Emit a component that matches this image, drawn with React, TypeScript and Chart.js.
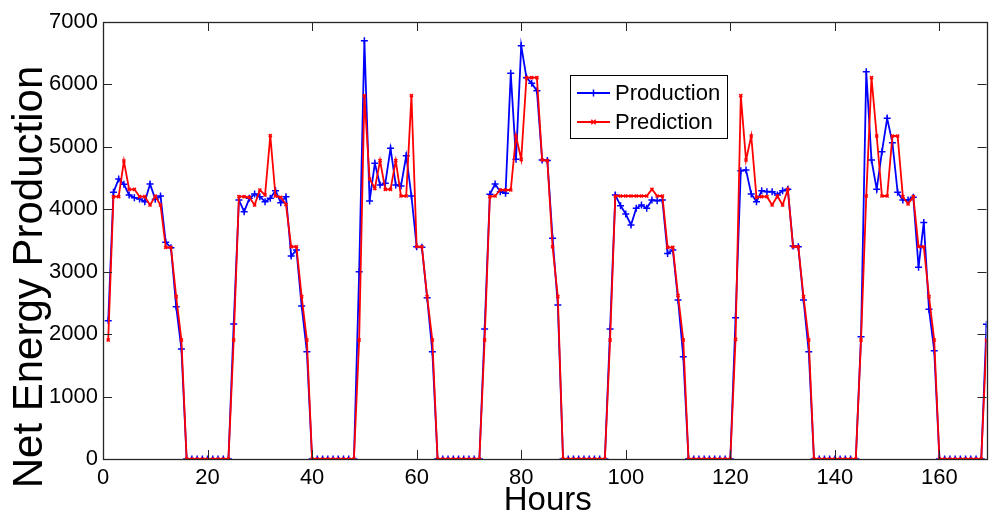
import React, { useEffect, useRef } from "react";
import { Chart, registerables } from "chart.js";

Chart.register(...registerables);

const HOURS: number[] = Array.from({ length: 169 }, (_, i) => i + 1);
const Z9 = [0, 0, 0, 0, 0, 0, 0, 0, 0];

const PRODUCTION: number[] = [
  2215, 4272, 4485, 4400, 4229, 4186, 4165, 4122, 4405, 4160, 4213, 3471, 3385, 2440, 1762, ...Z9,
  2162, 4149, 3962, 4176, 4245, 4202, 4122, 4176, 4298, 4106, 4202, 3250, 3348, 2450, 1719, ...Z9,
  3000, 6700, 4133, 4736, 4389, 4416, 4976, 4389, 4373, 4858, 4213, 3400, 3390, 2584, 1719, ...Z9,
  2082, 4240, 4405, 4282, 4256, 6178, 4800, 6620, 6108, 6017, 5900, 4789, 4780, 3535, 2467, ...Z9,
  2082, 4229, 4058, 3924, 3748, 4015, 4069, 4015, 4149, 4138, 4149, 3290, 3348, 2547, 1639, ...Z9,
  2264, 4618, 4629, 4245, 4122, 4298, 4282, 4282, 4229, 4298, 4320, 3412, 3400, 2547, 1719, ...Z9,
  1960, 6204, 4789, 4320, 4922, 5457, 5067, 4272, 4149, 4149, 4192, 3070, 3790, 2397, 1735, ...Z9,
  2157,
];

const PREDICTION: number[] = [
  1906, 4202, 4202, 4773, 4320, 4320, 4202, 4202, 4069, 4210, 4069, 3391, 3391, 2600, 1906, ...Z9,
  1906, 4202, 4202, 4192, 4069, 4309, 4229, 5179, 4213, 4192, 4080, 3400, 3400, 2600, 1906, ...Z9,
  1906, 5820, 4485, 4336, 4779, 4320, 4320, 4779, 4213, 4213, 5820, 3400, 3400, 2600, 1906, ...Z9,
  1906, 4202, 4213, 4309, 4309, 4309, 5174, 4800, 6108, 6108, 6108, 4789, 4780, 3400, 2600, ...Z9,
  1906, 4213, 4213, 4213, 4213, 4213, 4213, 4213, 4320, 4213, 4213, 3391, 3391, 2616, 1906, ...Z9,
  1917, 5820, 4789, 5174, 4192, 4202, 4202, 4069, 4213, 4069, 4320, 3400, 3400, 2600, 1906, ...Z9,
  1906, 4213, 6108, 5174, 4213, 4213, 5174, 5174, 4202, 4085, 4202, 3400, 3400, 2600, 1906, ...Z9,
  1906,
];

const X_TICKS: number[] = [0, 20, 40, 60, 80, 100, 120, 140, 160];
const Y_TICKS: number[] = [0, 1000, 2000, 3000, 4000, 5000, 6000, 7000];
const SERIES_LABELS: string[] = ["Production", "Prediction"];
const X_TITLE = "Hours";
const Y_TITLE = "Net Energy Production";

const FONT = "'Liberation Sans', Arial, Helvetica, sans-serif";
const AXIS_COLOR = "#262626";

const boxPlugin = {
  id: "matlabBox",
  afterDatasetsDraw(chart: any) {
    const { ctx, chartArea, scales } = chart;
    const { left, right, top, bottom } = chartArea;
    const tl = 9;
    ctx.save();
    ctx.strokeStyle = AXIS_COLOR;
    ctx.lineWidth = 1;
    ctx.beginPath();
    for (const v of X_TICKS) {
      const x = Math.round(scales.x.getPixelForValue(v)) + 0.5;
      ctx.moveTo(x, bottom);
      ctx.lineTo(x, bottom - tl);
      ctx.moveTo(x, top);
      ctx.lineTo(x, top + tl);
    }
    for (const v of Y_TICKS) {
      const y = Math.round(scales.y.getPixelForValue(v)) + 0.5;
      ctx.moveTo(left, y);
      ctx.lineTo(left + tl, y);
      ctx.moveTo(right, y);
      ctx.lineTo(right - tl, y);
    }
    ctx.stroke();
    ctx.lineWidth = 1.3;
    ctx.strokeRect(Math.round(left) + 0.5, Math.round(top) + 0.5, Math.round(right - left), Math.round(bottom - top));

    // axis titles
    ctx.fillStyle = "#000000";
    ctx.textAlign = "center";
    ctx.textBaseline = "middle";
    ctx.font = `33px ${FONT}`;
    ctx.fillText(X_TITLE, (left + right) / 2 + 3, 501);
    ctx.save();
    ctx.translate(30, 277);
    ctx.rotate(-Math.PI / 2);
    ctx.font = `42px ${FONT}`;
    ctx.fillText(Y_TITLE, 0, 0);
    ctx.restore();

    // legend
    const lx = 570, ly = 75, lw = 157, lh = 63;
    ctx.fillStyle = "#ffffff";
    ctx.fillRect(lx, ly, lw, lh);
    ctx.strokeStyle = "#000000";
    ctx.lineWidth = 1;
    ctx.strokeRect(lx + 0.5, ly + 0.5, lw, lh);
    const rows = [93, 122];
    chart.data.datasets.forEach((ds: any, i: number) => {
      const y = rows[i];
      ctx.strokeStyle = ds.borderColor;
      ctx.lineWidth = ds.borderWidth;
      ctx.beginPath();
      ctx.moveTo(577, y);
      ctx.lineTo(610, y);
      ctx.stroke();
      ctx.lineWidth = ds.pointBorderWidth;
      const r = ds.pointRadius;
      ctx.beginPath();
      if (ds.pointStyle === "cross") {
        ctx.moveTo(593.5 - r, y);
        ctx.lineTo(593.5 + r, y);
        ctx.moveTo(593.5, y - r);
        ctx.lineTo(593.5, y + r);
      } else {
        ctx.moveTo(593.5 - r, y - r);
        ctx.lineTo(593.5 + r, y + r);
        ctx.moveTo(593.5 - r, y + r);
        ctx.lineTo(593.5 + r, y - r);
      }
      ctx.stroke();
      ctx.fillStyle = "#000000";
      ctx.font = `22px ${FONT}`;
      ctx.textBaseline = "middle";
      ctx.textAlign = "left";
      ctx.fillText(ds.label, 615, y + 1);
    });
    ctx.restore();
  },
};

export default function App() {
  const ref = useRef<HTMLCanvasElement | null>(null);
  useEffect(() => {
    if (!ref.current) return;
    const chart = new Chart(ref.current, {
      type: "line",
      data: {
        datasets: [
          {
            label: SERIES_LABELS[0],
            data: HOURS.map((h, i) => ({ x: h, y: PRODUCTION[i] })),
            borderColor: "#0000ff",
            backgroundColor: "#0000ff",
            borderWidth: 1.8,
            pointStyle: "cross",
            pointRadius: 3.5,
            pointBorderWidth: 1.5,
            pointBorderColor: "#0000ff",
            fill: false,
            tension: 0,
            order: 2,
          },
          {
            label: SERIES_LABELS[1],
            data: HOURS.map((h, i) => ({ x: h, y: PREDICTION[i] })),
            borderColor: "#ff0000",
            backgroundColor: "#ff0000",
            borderWidth: 1.8,
            pointStyle: "crossRot",
            pointRadius: 2.2,
            pointBorderWidth: 1.5,
            pointBorderColor: "#ff0000",
            fill: false,
            tension: 0,
            order: 1,
          },
        ] as any,
      },
      options: {
        responsive: false,
        animation: false,
        events: [],
        layout: { padding: { left: 4, right: 2, top: 22, bottom: 4 } },
        plugins: { legend: { display: false }, tooltip: { enabled: false } },
        scales: {
          x: {
            type: "linear",
            min: 0,
            max: 169,
            grid: { display: false, drawTicks: false },
            border: { display: false },
            afterBuildTicks: (s: any) => {
              s.ticks = X_TICKS.map((v) => ({ value: v }));
            },
            afterFit: (s: any) => {
              s.height = 520 - 459 - 4;
            },
            ticks: {
              color: "#000",
              font: { family: FONT, size: 22 },
              padding: 6,
              maxRotation: 0,
              autoSkip: false,
              callback: (v: any) => String(v),
            },
            title: { display: false },
          },
          y: {
            type: "linear",
            min: 0,
            max: 7000,
            grid: { display: false, drawTicks: false },
            border: { display: false },
            afterBuildTicks: (s: any) => {
              s.ticks = Y_TICKS.map((v) => ({ value: v }));
            },
            afterFit: (s: any) => {
              s.width = 103 - 4;
            },
            ticks: {
              color: "#000",
              font: { family: FONT, size: 22 },
              padding: 5,
              callback: (v: any) => String(v),
            },
            title: { display: false },
          },
        },
      },
      plugins: [boxPlugin],
    } as any);
    return () => chart.destroy();
  }, []);
  return (
    <div style={{ position: "absolute", left: 0, top: 0, width: 992, height: 520, background: "#fff" }}>
      <canvas ref={ref} width={992} height={520} />
    </div>
  );
}
